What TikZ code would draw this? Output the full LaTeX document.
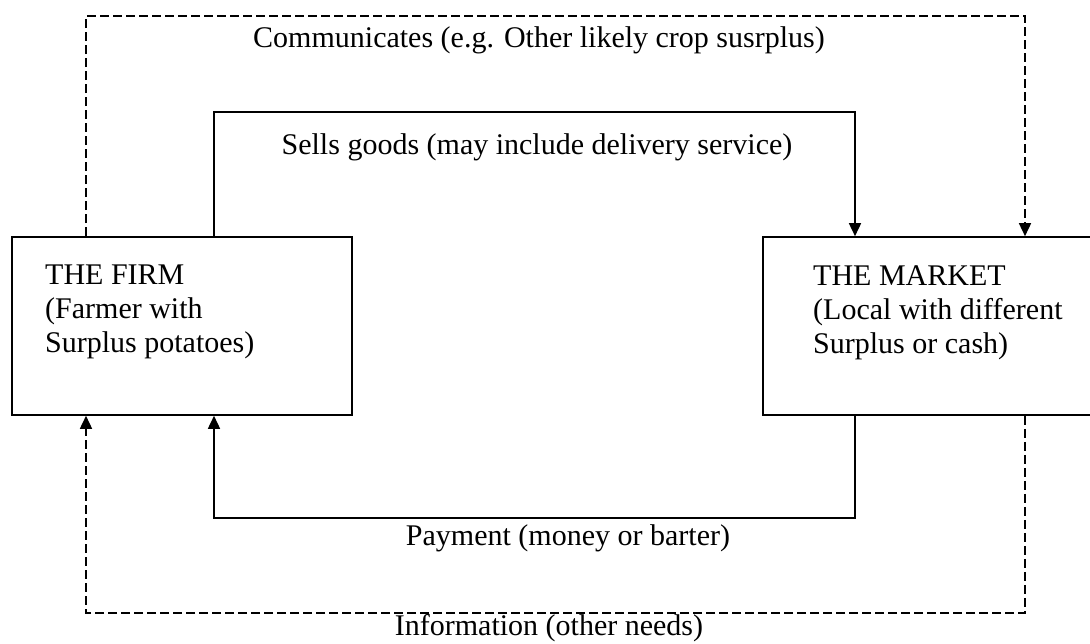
\documentclass[tikz,border=0pt]{standalone}
\usepackage{fontspec}
\setmainfont{Liberation Serif}
\usepackage{tikz}
\usetikzlibrary{positioning, calc, arrows.meta}

\tikzset{
	agent/.style={draw, line width=1.6pt, minimum width=340pt, minimum height=178pt, inner sep=0pt},
	agenttext/.style={anchor=north west, inner sep=0pt, align=left, font=\fontsize{30}{34}\selectfont},
	flowlabel/.style={anchor=base, inner sep=0pt, font=\fontsize{30}{34}\selectfont},
	goods/.style={line width=1.6pt, -{Triangle[width=12pt,length=13pt]}},
	info/.style={goods, dash pattern=on 9pt off 4pt}
}

\begin{document}
\begin{tikzpicture}[x=1pt, y=1pt]
	
	\useasboundingbox (0,0) rectangle (1090,643);
	
	%//the two boxes
	\node [agent] (firm) at (182, 317) {};
	\node [agent, minimum width=335pt] (market) at (930.5, 317) {};
	
	\node [agenttext] (firmtxt) at (45, 378) {THE FIRM\\(Farmer with\\Surplus potatoes)};
	\node [agenttext] (markettxt) at (813, 378) {THE MARKET\\(Local with different\\Surplus or cash)};
	
	%//flows between them
	\draw [info] ([xshift=-96pt]firm.north) -- ++(0,220) -| ([xshift=94.5pt]market.north);
	\draw [goods] ([xshift=32pt]firm.north) -- ++(0,124) -| ([xshift=-75.5pt]market.north);
	\draw [goods] ([xshift=-75.5pt]market.south) -- ++(0,-102) -| ([xshift=32pt]firm.south);
	\draw [info] ([xshift=94.5pt]market.south) -- ++(0,-197) -| ([xshift=-96pt]firm.south);
	
	\node [flowlabel] (comm) at (539, 595) {Communicates (e.g. Other likely crop susrplus)};
	\node [flowlabel] (sells) at (537, 488) {Sells goods (may include delivery service)};
	\node [flowlabel] (pay) at (568, 98) {Payment (money or barter)};
	\node [flowlabel] (inform) at (549, 8) {Information (other needs)};
	
\end{tikzpicture}
\end{document}
